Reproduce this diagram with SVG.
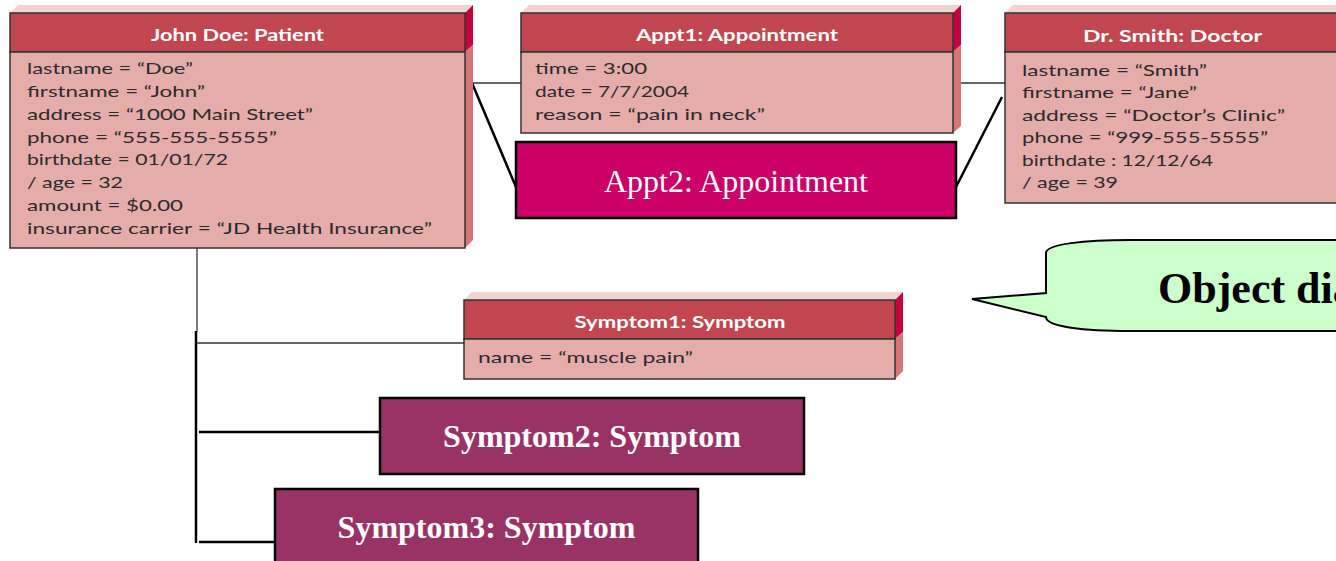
<svg xmlns="http://www.w3.org/2000/svg" width="1336" height="561" viewBox="0 0 1336 561">
  <style>
    .bevel-top { fill: #F1D3CF; }
    .bevel-side-head { fill: #C4023D; }
    .bevel-side-body { fill: #D57676; }
    .head { fill: #C1464F; stroke: #333; stroke-width: 1.5; }
    .body { fill: #E4ADAA; stroke: #333; stroke-width: 1.5; }
    .title { font-family: Lato, "Open Sans", sans-serif; font-weight: bold; font-size: 17px; fill: #fff; }
    .attr { font-family: Lato, "Open Sans", sans-serif; font-size: 16px; fill: #2b2b2b; }
    .thin { stroke: #333; stroke-width: 1.3; fill: none; }
    .thick { stroke: #000; stroke-width: 2.5; fill: none; }
    .solid-pink { fill: #CC0066; stroke: #000; stroke-width: 2.5; }
    .solid-plum { fill: #993366; stroke: #000; stroke-width: 2.5; }
    .serif-label { font-family: "Liberation Serif", "Times New Roman", serif; font-size: 32px; fill: #fff; }
    .serif-bold { font-family: "Liberation Serif", "Times New Roman", serif; font-size: 32px; font-weight: bold; fill: #fff; }
  </style>

  <rect width="1336" height="561" fill="#fff"/>

  <!-- connectors -->
  <g id="connectors">
    <line class="thin" x1="472" y1="83" x2="521" y2="83"/>
    <line class="thin" x1="960" y1="83" x2="1005" y2="83"/>
    <line class="thick" x1="472" y1="83" x2="516" y2="187"/>
    <line class="thick" x1="956" y1="187" x2="1002" y2="97"/>
    <line class="thin" x1="197" y1="248" x2="197" y2="332"/>
    <line class="thick" x1="196" y1="331" x2="196" y2="543"/>
    <line class="thin" x1="197" y1="343" x2="464" y2="343"/>
    <line class="thick" x1="199" y1="432" x2="380" y2="432"/>
    <line class="thick" x1="199" y1="542" x2="275" y2="542"/>
  </g>

  <!-- John Doe: Patient -->
  <g id="patient">
    <polygon class="bevel-top" points="10,13 18,5 473,5 465,13"/>
    <polygon class="bevel-side-head" points="465,13 473,5 473,45 465,52"/>
    <polygon class="bevel-side-body" points="465,52 473,45 473,240 465,248"/>
    <rect class="head" x="10" y="13" width="455" height="39"/>
    <rect class="body" x="10" y="52" width="455" height="196"/>
    <text class="title" x="237.5" y="41" text-anchor="middle" textLength="173" lengthAdjust="spacingAndGlyphs">John Doe: Patient</text>
    <text class="attr" x="27" y="74" textLength="166" lengthAdjust="spacingAndGlyphs">lastname = “Doe”</text>
    <text class="attr" x="27" y="96.9" textLength="178" lengthAdjust="spacingAndGlyphs">firstname = “John”</text>
    <text class="attr" x="27" y="119.7" textLength="286" lengthAdjust="spacingAndGlyphs">address = “1000 Main Street”</text>
    <text class="attr" x="27" y="142.6" textLength="250" lengthAdjust="spacingAndGlyphs">phone = “555-555-5555”</text>
    <text class="attr" x="27" y="165.4" textLength="201" lengthAdjust="spacingAndGlyphs">birthdate = 01/01/72</text>
    <text class="attr" x="27" y="188.3" textLength="96" lengthAdjust="spacingAndGlyphs">/ age = 32</text>
    <text class="attr" x="27" y="211.1" textLength="156" lengthAdjust="spacingAndGlyphs">amount = $0.00</text>
    <text class="attr" x="27" y="234" textLength="405" lengthAdjust="spacingAndGlyphs">insurance carrier = “JD Health Insurance”</text>
  </g>

  <!-- Appt1: Appointment -->
  <g id="appt1">
    <polygon class="bevel-top" points="521,13 529,5 961,5 953,13"/>
    <polygon class="bevel-side-head" points="953,13 961,5 961,45 953,52"/>
    <polygon class="bevel-side-body" points="953,52 961,45 961,126 953,133"/>
    <rect class="head" x="521" y="13" width="432" height="39"/>
    <rect class="body" x="521" y="52" width="432" height="81"/>
    <text class="title" x="737" y="41" text-anchor="middle" textLength="202" lengthAdjust="spacingAndGlyphs">Appt1: Appointment</text>
    <text class="attr" x="535" y="74" textLength="112" lengthAdjust="spacingAndGlyphs">time = 3:00</text>
    <text class="attr" x="535" y="97" textLength="154" lengthAdjust="spacingAndGlyphs">date = 7/7/2004</text>
    <text class="attr" x="535" y="120" textLength="230" lengthAdjust="spacingAndGlyphs">reason = “pain in neck”</text>
  </g>

  <!-- Appt2: Appointment -->
  <g id="appt2">
    <rect class="solid-pink" x="516" y="142" width="440" height="76"/>
    <text class="serif-label" x="736" y="192" text-anchor="middle">Appt2: Appointment</text>
  </g>

  <!-- Dr. Smith: Doctor -->
  <g id="doctor">
    <polygon class="bevel-top" points="1005,13 1013,5 1345,5 1345,13"/>
    <rect class="head" x="1005" y="13" width="340" height="39"/>
    <rect class="body" x="1005" y="52" width="340" height="151"/>
    <text class="title" x="1083" y="42" textLength="179" lengthAdjust="spacingAndGlyphs">Dr. Smith: Doctor</text>
    <text class="attr" x="1022" y="75.5" textLength="185" lengthAdjust="spacingAndGlyphs">lastname = “Smith”</text>
    <text class="attr" x="1022" y="98" textLength="175" lengthAdjust="spacingAndGlyphs">firstname = “Jane”</text>
    <text class="attr" x="1022" y="120.5" textLength="263" lengthAdjust="spacingAndGlyphs">address = “Doctor’s Clinic”</text>
    <text class="attr" x="1022" y="143" textLength="246" lengthAdjust="spacingAndGlyphs">phone = “999-555-5555”</text>
    <text class="attr" x="1022" y="165.5" textLength="191" lengthAdjust="spacingAndGlyphs">birthdate : 12/12/64</text>
    <text class="attr" x="1022" y="188" textLength="96" lengthAdjust="spacingAndGlyphs">/ age = 39</text>
  </g>

  <!-- callout -->
  <g id="callout">
    <path d="M1046,253 C1046,244 1085,240 1130,240 L1350,240 L1350,331 L1130,331 C1085,331 1046,327 1046,317 L972,299 L1046,293 Z" fill="#CCFFCC" stroke="#000" stroke-width="2"/>
    <text x="1158" y="303" font-family="'Liberation Serif', 'Times New Roman', serif" font-size="44" font-weight="bold" fill="#000">Object diagram</text>
  </g>

  <!-- Symptom1: Symptom -->
  <g id="symptom1">
    <polygon class="bevel-top" points="464,300 472,292 903,292 895,300"/>
    <polygon class="bevel-side-head" points="895,300 903,292 903,332 895,339"/>
    <polygon class="bevel-side-body" points="895,339 903,332 903,371 895,379"/>
    <rect class="head" x="464" y="300" width="431" height="39"/>
    <rect class="body" x="464" y="339" width="431" height="40"/>
    <text class="title" x="680" y="328" text-anchor="middle" textLength="211" lengthAdjust="spacingAndGlyphs">Symptom1: Symptom</text>
    <text class="attr" x="478" y="363" textLength="215" lengthAdjust="spacingAndGlyphs">name = “muscle pain”</text>
  </g>

  <!-- Symptom2: Symptom -->
  <g id="symptom2">
    <rect class="solid-plum" x="380" y="398" width="424" height="76"/>
    <text class="serif-bold" x="592" y="447" text-anchor="middle">Symptom2: Symptom</text>
  </g>

  <!-- Symptom3: Symptom -->
  <g id="symptom3">
    <rect class="solid-plum" x="275" y="489" width="423" height="80"/>
    <text class="serif-bold" x="486.5" y="538" text-anchor="middle">Symptom3: Symptom</text>
  </g>
</svg>
